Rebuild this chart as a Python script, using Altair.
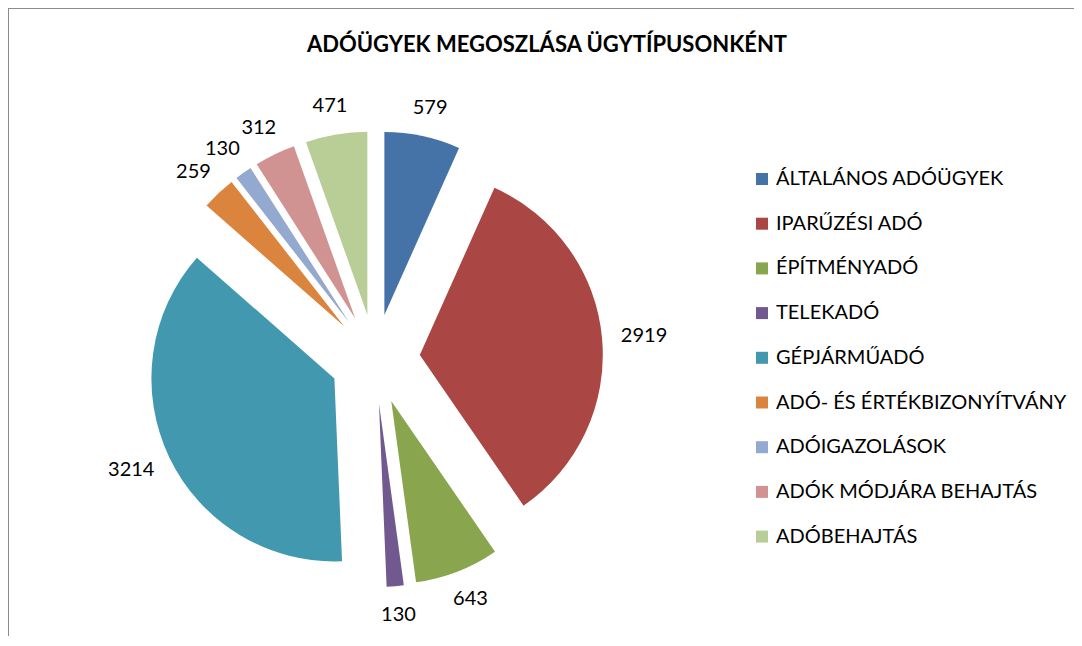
import altair as alt
import pandas as pd

categories = ["ÁLTALÁNOS ADÓÜGYEK", "IPARŰZÉSI ADÓ", "ÉPÍTMÉNYADÓ", "TELEKADÓ",
              "GÉPJÁRMŰADÓ", "ADÓ- ÉS ÉRTÉKBIZONYÍTVÁNY", "ADÓIGAZOLÁSOK",
              "ADÓK MÓDJÁRA BEHAJTÁS", "ADÓBEHAJTÁS"]
values = [579, 2919, 643, 130, 3214, 259, 130, 312, 471]
colors = ["#4572A7", "#AA4643", "#89A54E", "#71588F", "#4198AF",
          "#DB843D", "#93A9CF", "#D19392", "#B9CD96"]
title_text = "ADÓÜGYEK MEGOSZLÁSA ÜGYTÍPUSONKÉNT"

# layout
W, H = 1066, 628
CX, CY = 367, 351
R = 183
EXPL = 45
LA = 247      # label anchor radius
FONT = "Lato"

df = pd.DataFrame({"category": categories, "value": values,
                   "order": list(range(len(values)))})

base = alt.Chart(df).transform_window(
    cum="sum(value)", sort=[alt.SortField("order")], frame=[None, 0]
).transform_joinaggregate(
    total="sum(value)"
).transform_calculate(
    t1="2*PI*datum.cum/datum.total",
    t0="2*PI*(datum.cum-datum.value)/datum.total",
).transform_calculate(
    mid="(datum.t0+datum.t1)/2",
    hw="length(toString(datum.value))*5.8",
).transform_calculate(
    px=f"{CX}+{EXPL}*sin(datum.mid)",
    py=f"{CY}-{EXPL}*cos(datum.mid)",
    lx=f"{CX}+({LA}+datum.hw)*sin(datum.mid)",
    ly=f"{CY}-({LA}+10)*cos(datum.mid)",
)

arcs = base.mark_arc(radius=R).encode(
    theta=alt.Theta("t0:Q", scale=None),
    theta2=alt.Theta2("t1:Q"),
    x=alt.X("px:Q", scale=None),
    y=alt.Y("py:Q", scale=None),
    color=alt.Color(
        "category:N",
        scale=alt.Scale(domain=categories, range=colors),
        legend=alt.Legend(
            title=None, orient="none", legendX=744, legendY=161,
            symbolType="square", symbolSize=144, symbolStrokeWidth=0,
            labelFont=FONT, labelFontSize=20, labelColor="#000000",
            labelLimit=500, rowPadding=24.7, labelOffset=4,
        ),
    ),
)

labels = base.mark_text(font=FONT, fontSize=20, color="#000000",
                        align="center", baseline="middle").encode(
    x=alt.X("lx:Q", scale=None),
    y=alt.Y("ly:Q", scale=None),
    text=alt.Text("value:Q"),
)

title = alt.Chart(pd.DataFrame({"t": [title_text]})).mark_text(
    font=FONT, fontSize=22, fontWeight="bold", color="#000000",
    align="center", baseline="middle"
).encode(x=alt.value(539), y=alt.value(37), text="t:N")

border_left = alt.Chart(pd.DataFrame({"a": [0]})).mark_rule(
    color="#8c8c8c", strokeWidth=2
).encode(x=alt.value(0), y=alt.value(0), y2=alt.value(H))
border_top = alt.Chart(pd.DataFrame({"a": [0]})).mark_rule(
    color="#8c8c8c", strokeWidth=2
).encode(x=alt.value(0), x2=alt.value(W), y=alt.value(0))

chart = alt.layer(border_left, border_top, arcs, labels, title).properties(
    width=W, height=H, autosize=alt.AutoSizeParams(type="none"), padding=0
).configure_view(stroke=None)

chart.save("out.html", embed_options={"renderer": "svg", "actions": False})
